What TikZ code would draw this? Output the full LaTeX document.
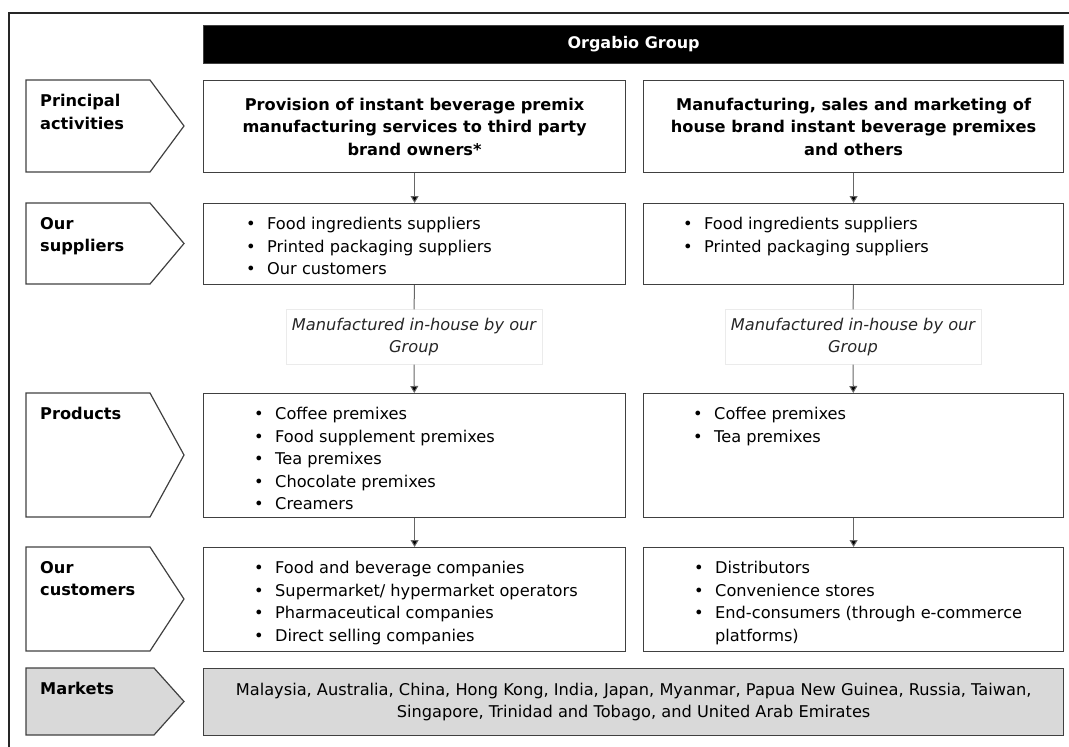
\documentclass[tikz,border=0pt]{standalone}
\usepackage{fontspec}
\setmainfont{DejaVu Sans}
\usetikzlibrary{arrows.meta, positioning}

\newcommand{\bitem}[1]{\makebox[21pt][l]{\textbullet}#1}

\begin{document}
\begin{tikzpicture}[x=1pt, y=-1pt,
    font=\fontsize{16.2}{22.5}\selectfont,
    box/.style={draw=black!75, line width=1.2pt, anchor=north west, inner sep=0pt},
    tag/.style={draw=black!75, line width=1.2pt, line join=miter},
    tagtext/.style={anchor=north west, inner sep=0pt, align=left, font=\fontsize{16.2}{22.5}\selectfont\bfseries},
    listtext/.style={anchor=north west, inner sep=0pt, align=left},
    headtext/.style={align=center, inner sep=0pt, font=\fontsize{16.2}{22.5}\selectfont\bfseries},
    mfnote/.style={draw=black!8, align=center, inner sep=0pt, minimum width=256pt, minimum height=55pt,
        font=\fontsize{16.2}{22.5}\selectfont\itshape, text=black!85},
    link/.style={draw=black!60, line width=1pt},
    flow/.style={link, -{Triangle[length=7pt, width=8pt, fill=black]}}
]
    \useasboundingbox (0,0) rectangle (1069,747);

    % FRAME
    \draw[line width=1.5pt, black!85] (9,747) -- (9,13) -- (1069,13);

    % GROUP BAR
    \node[box, fill=black, minimum width=860pt, minimum height=38pt] (grp) at (203,25) {};
    \node[text=white, font=\fontsize{16}{18}\selectfont\bfseries] at (grp) {Orgabio Group};

    % ROW TAGS (arrow shapes on the left)
    \foreach \t/\b/\n/\la/\lb in {
        80/172/pa/Principal/activities,
        203/284/su/Our/suppliers,
        393/517/pr/Products/,
        547/651/cu/Our/customers
    }{
        \draw[tag] (26,\t) -- (150,\t) -- (184,{(\t+\b)/2}) -- (150,\b) -- (26,\b) -- cycle;
        \node[tagtext] (\n) at (40,\t+14) {\la\\\lb};
    }
    \draw[tag, fill=black!15] (26,668) -- (154,668) -- (184,701.5) -- (154,735) -- (26,735) -- cycle;
    \node[tagtext] (mk) at (40,668+14) {Markets};

    % PRINCIPAL ACTIVITIES
    \node[box, minimum width=422pt, minimum height=92pt] (paL) at (203,80) {};
    \node[box, minimum width=420pt, minimum height=92pt] (paR) at (643,80) {};
    \node[headtext] (paLt) at (paL) {Provision of instant beverage premix\\manufacturing services to third party\\brand owners*};
    \node[headtext] (paRt) at (paR) {Manufacturing, sales and marketing of\\house brand instant beverage premixes\\and others};

    % SUPPLIERS
    \node[box, minimum width=422pt, minimum height=81pt] (suL) at (203,203) {};
    \node[box, minimum width=420pt, minimum height=81pt] (suR) at (643,203) {};
    \node[listtext, below right=14pt and 43pt of suL.north west] (suLt)
        {\bitem{Food ingredients suppliers}\\\bitem{Printed packaging suppliers}\\\bitem{Our customers}};
    \node[listtext, below right=14pt and 40pt of suR.north west] (suRt)
        {\bitem{Food ingredients suppliers}\\\bitem{Printed packaging suppliers}};

    % MANUFACTURED IN-HOUSE
    \node[mfnote] (mfL) at (414,337) {Manufactured in-house by our\\Group};
    \node[mfnote] (mfR) at (853,337) {Manufactured in-house by our\\Group};

    % PRODUCTS
    \node[box, minimum width=422pt, minimum height=124pt] (prL) at (203,393) {};
    \node[box, minimum width=420pt, minimum height=124pt] (prR) at (643,393) {};
    \node[listtext, below right=14pt and 51pt of prL.north west] (prLt)
        {\bitem{Coffee premixes}\\\bitem{Food supplement premixes}\\\bitem{Tea premixes}\\\bitem{Chocolate premixes}\\\bitem{Creamers}};
    \node[listtext, below right=14pt and 50pt of prR.north west] (prRt)
        {\bitem{Coffee premixes}\\\bitem{Tea premixes}};

    % CUSTOMERS
    \node[box, minimum width=422pt, minimum height=104pt] (cuL) at (203,547) {};
    \node[box, minimum width=420pt, minimum height=104pt] (cuR) at (643,547) {};
    \node[listtext, below right=14pt and 51pt of cuL.north west] (cuLt)
        {\bitem{Food and beverage companies}\\\bitem{Supermarket/ hypermarket operators}\\\bitem{Pharmaceutical companies}\\\bitem{Direct selling companies}};
    \node[listtext, below right=14pt and 51pt of cuR.north west] (cuRt)
        {\bitem{Distributors}\\\bitem{Convenience stores}\\\bitem{End-consumers (through e-commerce}\\\hspace*{21pt}platforms)};

    % MARKETS
    \node[box, fill=black!15, minimum width=860pt, minimum height=67pt] (mkB) at (203,668) {};
    \node[align=center, inner sep=0pt] (mkt) at (mkB)
        {Malaysia, Australia, China, Hong Kong, India, Japan, Myanmar, Papua New Guinea, Russia, Taiwan,\\Singapore, Trinidad and Tobago, and United Arab Emirates};

    % CONNECTORS
    \draw[flow] (paL) -- (suL);
    \draw[flow] (paR) -- (suR);
    \draw[link] (suL) -- (mfL);
    \draw[link] (suR) -- (mfR);
    \draw[flow] (mfL) -- (prL);
    \draw[flow] (mfR) -- (prR);
    \draw[flow] (prL) -- (cuL);
    \draw[flow] (prR) -- (cuR);

\end{tikzpicture}
\end{document}
